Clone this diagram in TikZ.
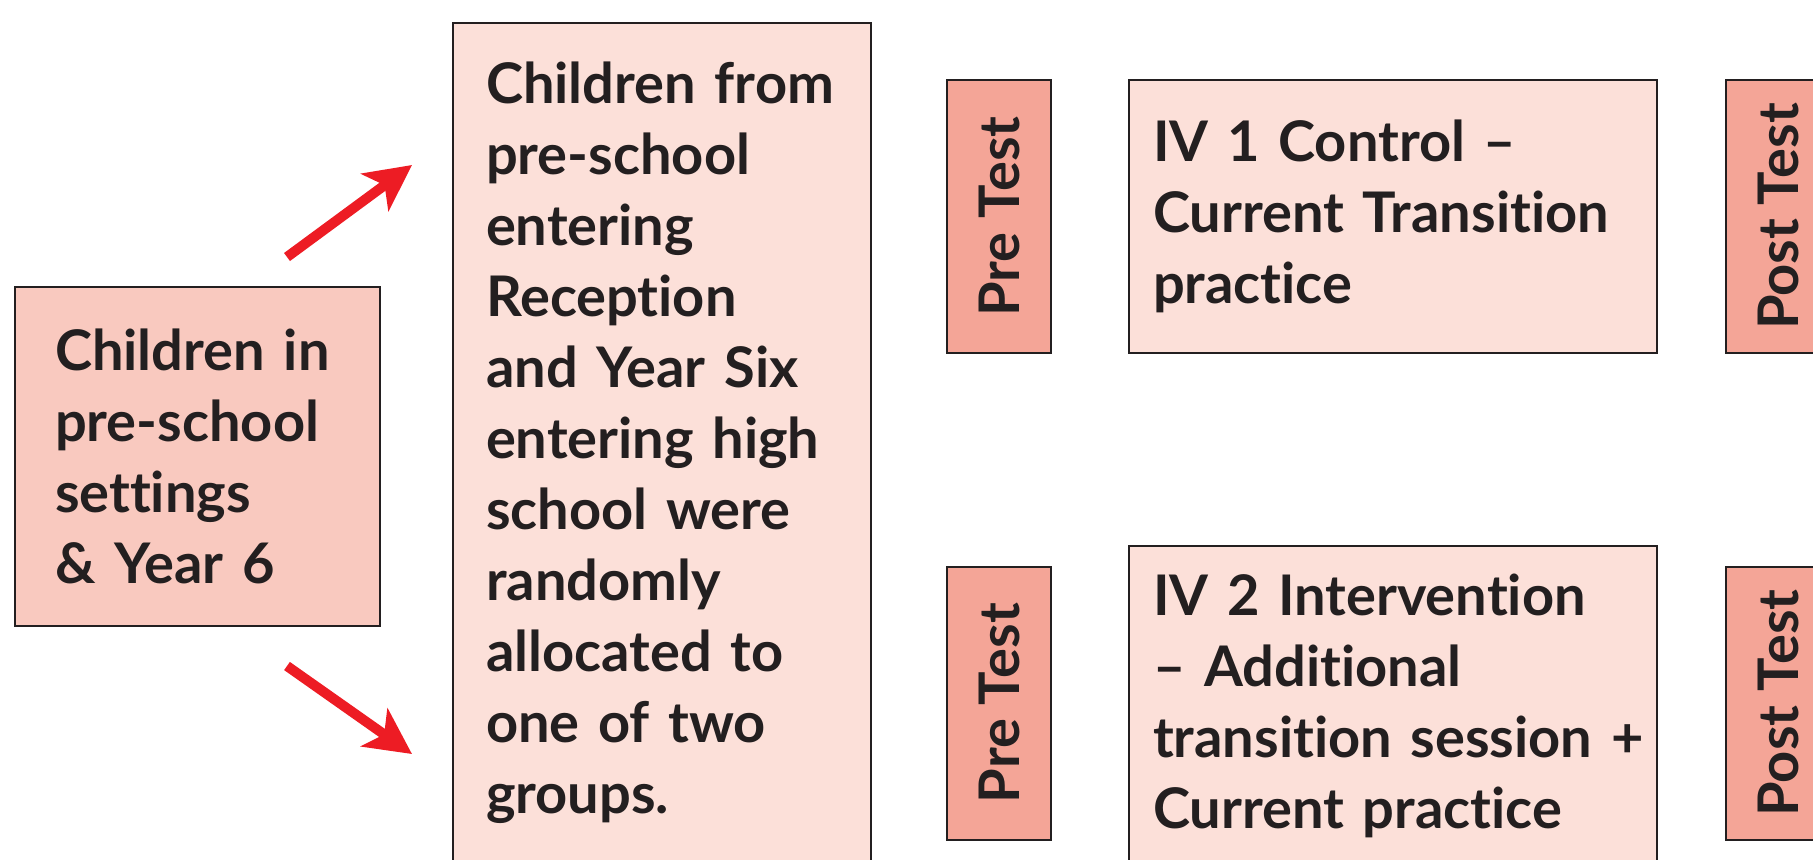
\documentclass[tikz,border=0pt]{standalone}
\usepackage{fontspec}
\setmainfont{Lato}[Ligatures={TeX,NoCommon}]
\usetikzlibrary{arrows.meta}
\definecolor{lightpink}{HTML}{FCE0D9}
\definecolor{midpink}{HTML}{F9C9BF}
\definecolor{testpink}{HTML}{F4A597}
\definecolor{arrowred}{HTML}{ED1C24}
\definecolor{ink}{HTML}{231F20}
\begin{document}
\begin{tikzpicture}[x=0.5pt,y=-0.5pt,
    box/.style={draw=ink,line width=1pt,inner ysep=0pt,align=left,text=ink,font=\fontsize{28}{35.5}\selectfont\bfseries},
    testbox/.style={box,fill=testpink,rotate=90,align=center,minimum width=136.5pt,minimum height=52pt,inner xsep=0pt},
    flow/.style={arrowred,line width=5pt,-{Stealth[length=23pt,width=23pt,inset=6pt]}}]
    \useasboundingbox (0,0) rectangle (1813,859);
    \clip (0,0) rectangle (1813,859);
    \node[box,fill=midpink,minimum width=182.5pt,minimum height=169.5pt,text width=142.5pt,inner xsep=20pt] (kids) at (197.5,456.5) {Children in\\pre-school\\settings\\\& Year 6};
    \node[box,fill=lightpink,minimum width=209pt,minimum height=419.5pt,text width=176pt,inner xsep=16.5pt] (pool) at (662,442.5) {Children from\\pre-school\\entering\\Reception\\and Year Six\\entering high\\school were\\randomly\\allocated to\\one of two\\groups.};
    \node[testbox] (pre1) at (999,216.5) {Pre Test};
    \node[box,fill=lightpink,minimum width=264pt,minimum height=136.5pt,text width=240pt,inner xsep=12pt] (ctrl) at (1393,216.5) {IV 1 Control --\\Current Transition\\practice};
    \node[testbox] (post1) at (1778,216.5) {Post Test};
    \node[testbox] (pre2) at (999,703) {Pre Test};
    \node[box,fill=lightpink,minimum width=264pt,minimum height=160pt,text width=240pt,inner xsep=12pt] (intv) at (1393,706) {IV 2 Intervention\\-- Additional\\\mbox{transition session +}\\Current practice};
    \node[testbox] (post2) at (1778,703) {Post Test};
    % arrows from the setting box to the two groups
    \coordinate (upfrom) at (287,257); \coordinate (upto) at (412,165);
    \coordinate (downfrom) at (287,666); \coordinate (downto) at (412,754);
    \draw[flow] (upfrom)--(upto);
    \draw[flow] (downfrom)--(downto);
\end{tikzpicture}
\end{document}
